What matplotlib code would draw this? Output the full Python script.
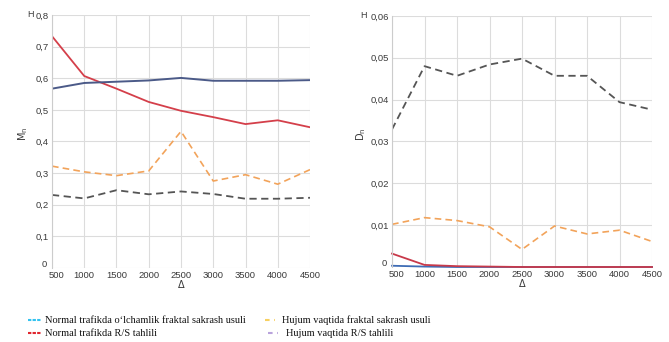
#!/usr/bin/env python3
"""Hurst-type estimates (M_n and D_n) versus window size for normal and attack traffic."""

import matplotlib
matplotlib.use("Agg")
import matplotlib.pyplot as plt
import matplotlib.transforms as mtransforms
from matplotlib.lines import Line2D
from matplotlib.ticker import FuncFormatter

# window sizes
delta = [500, 1000, 1500, 2000, 2500, 3000, 3500, 4000, 4500]

# left panel: M_n
m_normal_fractal = [0.567, 0.585, 0.589, 0.593, 0.601, 0.592, 0.592, 0.592, 0.594]
m_normal_rs = [0.733, 0.607, 0.567, 0.525, 0.497, 0.477, 0.455, 0.467, 0.445]
m_attack_fractal = [0.322, 0.304, 0.292, 0.307, 0.432, 0.275, 0.295, 0.265, 0.311]
m_attack_rs = [0.231, 0.220, 0.246, 0.233, 0.242, 0.234, 0.219, 0.219, 0.222]

# right panel: D_n
d_normal_fractal = [0.0003, 0.0001, 0.0000, 0.0000, 0.0000, 0.0000, 0.0000, 0.0000, 0.0000]
d_normal_rs = [0.0032, 0.0005, 0.0002, 0.0001, 0.0000, 0.0000, 0.0000, 0.0000, 0.0000]
d_attack_fractal = [0.0102, 0.0118, 0.0111, 0.0096, 0.0042, 0.0098, 0.0079, 0.0088, 0.0061]
d_attack_rs = [0.0329, 0.0480, 0.0457, 0.0484, 0.0498, 0.0457, 0.0457, 0.0394, 0.0376]

legend_labels = [
    "Normal trafikda o\u2018lchamlik fraktal sakrash usuli",
    "Normal trafikda R/S tahlili",
    "Hujum vaqtida fraktal sakrash usuli",
    "Hujum vaqtida R/S tahlili",
]

TICK_COLOR = "#3a3a3a"
GRID_COLOR = "#dcdcdc"


def comma_fmt(digits):
    def f(v, pos):
        if abs(v) < 1e-12:
            return "0"
        return f"{v:.{digits}f}".replace(".", ",")
    return FuncFormatter(f)


def style_axes(ax, ymax, ystep, digits, ylabel, label_x, h_x):
    ax.set_xlim(500, 4500)
    ax.set_ylim(0, ymax)
    ax.set_xticks(delta)
    ax.set_yticks([i * ystep for i in range(int(round(ymax / ystep)) + 1)])
    ax.yaxis.set_major_formatter(comma_fmt(digits))
    ax.grid(True, color=GRID_COLOR, linewidth=0.8)
    ax.set_axisbelow(True)
    for side in ["top", "right", "bottom"]:
        ax.spines[side].set_visible(False)
    ax.spines["left"].set_color("#cccccc")
    ax.spines["left"].set_linewidth(0.8)
    ax.tick_params(length=0, labelsize=6.8, colors=TICK_COLOR, pad=2)
    for lab in ax.get_xticklabels() + ax.get_yticklabels():
        lab.set_family("Liberation Sans")
    # nudge the corner labels apart like the original
    fig.canvas.draw()
    xl = ax.get_xticklabels()[0]
    xl.set_transform(xl.get_transform() +
                     mtransforms.ScaledTranslation(3 / 72, 0, fig.dpi_scale_trans))
    yl = ax.get_yticklabels()[0]
    yl.set_transform(yl.get_transform() +
                     mtransforms.ScaledTranslation(-2 / 72, 3 / 72, fig.dpi_scale_trans))
    ax.set_xlabel("\u0394", fontsize=7, color=TICK_COLOR, labelpad=0,
                  family="DejaVu Sans")
    ax.set_ylabel(ylabel, fontsize=7, color=TICK_COLOR)
    ax.yaxis.set_label_coords(label_x, 0.53)
    ax.text(h_x, 1.0, "H", transform=ax.transAxes, fontsize=6.5,
            color=TICK_COLOR, ha="right", va="center", family="Liberation Sans")


fig = plt.figure(figsize=(6.69, 3.42), dpi=100)
ax1 = fig.add_axes([0.0777, 0.2164, 0.3857, 0.7398])
ax2 = fig.add_axes([0.586, 0.2193, 0.3886, 0.734])

# left
ax1.plot(delta, m_attack_fractal, color="#f2a35a", lw=1.2, ls=(0, (4, 2.5)))
ax1.plot(delta, m_attack_rs, color="#555555", lw=1.3, ls=(0, (4, 2.5)))
ax1.plot(delta, m_normal_rs, color="#d43f4a", lw=1.3)
ax1.plot(delta, m_normal_fractal, color="#4b5a88", lw=1.4)
style_axes(ax1, 0.8, 0.1, 1, r"M$_\mathregular{n}$", -0.085, -0.07)

# right
ax2.plot(delta, d_attack_fractal, color="#f2a35a", lw=1.2, ls=(0, (4, 2.5)))
ax2.plot(delta, d_attack_rs, color="#555555", lw=1.3, ls=(0, (4, 2.5)))
ax2.plot(delta, d_normal_fractal, color="#3f6cb5", lw=1.3, clip_on=False)
ax2.plot(delta, d_normal_rs, color="#c8394a", lw=1.3, clip_on=False)
style_axes(ax2, 0.06, 0.01, 2, r"D$_\mathregular{n}$", -0.092, -0.098)

# legend drawn below the panels, in the document's serif font
leg_colors = ["#33c3f0", "#e0262e", "#f7d060", "#b9a3dc"]
leg_pos = [(0.042, 0.062, 0.068, 0.063), (0.042, 0.062, 0.068, 0.026),
           (0.396, 0.411, 0.422, 0.063), (0.401, 0.416, 0.427, 0.026)]
dash_styles = [(0, (1.6, 0.6)), (0, (1.6, 0.6)), (0, (2.2, 2.2)), (0, (2.2, 2.2))]
for lab, col, (x0, x1, xt, y), ds in zip(legend_labels, leg_colors, leg_pos, dash_styles):
    fig.add_artist(Line2D([x0, x1], [y, y], color=col, lw=1.5, ls=ds,
                          transform=fig.transFigure))
    fig.text(xt, y, lab, fontsize=7.5, family="Liberation Serif",
             va="center", ha="left", color="#111111")

fig.savefig("out.png", dpi=100)
